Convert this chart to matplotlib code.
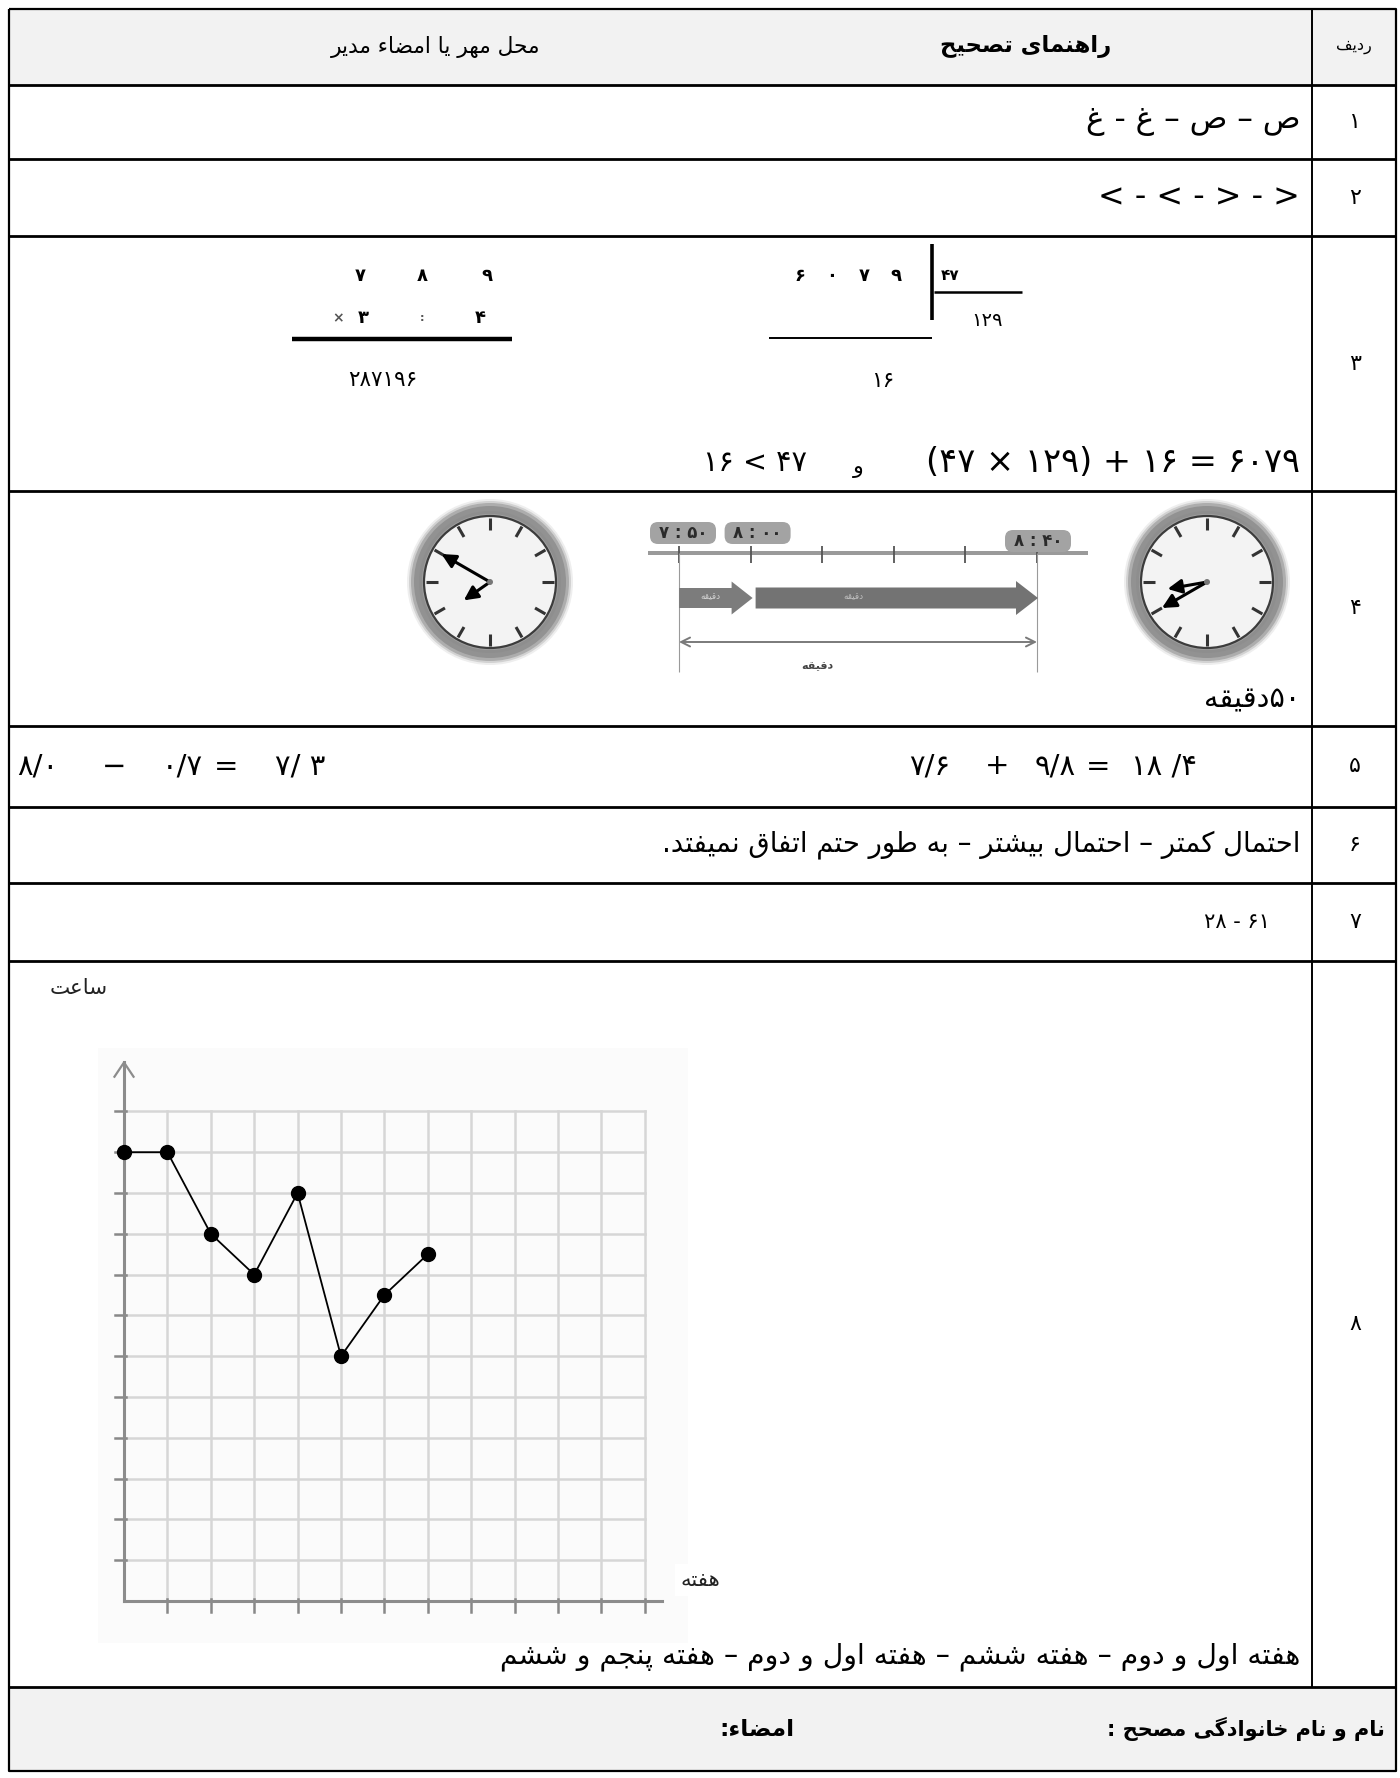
import re
import numpy as np
import matplotlib
matplotlib.use('Agg')
import matplotlib.pyplot as plt
from matplotlib.patches import Rectangle, Circle, FancyBboxPatch, FancyArrow, FancyArrowPatch

plt.rcParams['font.family'] = ['DejaVu Sans']

# ---------------- data ----------------
weeks = [0, 1, 2, 3, 4, 5, 6, 7]
hours = [11, 11, 9, 8, 10, 6, 7.5, 8.5]
grid_cells = 12

row_numbers = ['۱', '۲', '۳', '۴', '۵', '۶', '۷', '۸']
header_col = 'ردیف'
header_mid = 'راهنمای تصحیح'
header_left = 'محل مهر یا امضاء مدیر'
ans1 = 'ص – ص – غ - غ'
ans2 = '< - < - > - >'
mult_top = ['۷', '۸', '۹']
mult_bot = ['×', '۳', ':', '۴']
mult_res = '۲۸۷۱۹۶'
div_digits = ['۶', '۰', '۷', '۹']
div_divisor = '۴۷'
div_quot = '۱۲۹'
div_rem = '۱۶'
check_a = '۱۶ < ۴۷'
check_and = 'و'
check_b = '(۴۷ × ۱۲۹) + ۱۶ = ۶۰۷۹'
time_labels = ['۷:۵۰', '۸:۰۰', '۸:۴۰']
time_minutes = [50, 60, 100]          # minutes after 7:00
tick_minutes = [50, 60, 70, 80, 90, 100]
clock_times = [(7, 50), (8, 40)]
minute_word = 'دقیقه'
ans4 = '۵۰دقیقه'
ans5_left = ['۸/۰', '−', '۰/۷', '=', '۷/ ۳']
ans5_right = ['۷/۶', '+', '۹/۸', '=', '۱۸ /۴']
ans6 = 'احتمال کمتر – احتمال بیشتر – به طور حتم اتفاق نمیفتد.'
ans7 = '۲۸ - ۶۱'
ylabel = 'ساعت'
xlabel = 'هفته'
ans8 = 'هفته اول و دوم – هفته ششم – هفته اول و دوم – هفته پنجم و ششم'
footer_name = 'نام و نام خانوادگی مصحح :'
footer_sign = 'امضاء:'

# ---------------- Arabic shaping (presentation forms) ----------------
FORMS = {
    'ء': ('\uFE80', None, None, None),
    'آ': ('\uFE81', '\uFE82', None, None),
    'أ': ('\uFE83', '\uFE84', None, None),
    'ؤ': ('\uFE85', '\uFE86', None, None),
    'إ': ('\uFE87', '\uFE88', None, None),
    'ئ': ('\uFE89', '\uFE8A', '\uFE8B', '\uFE8C'),
    'ا': ('\uFE8D', '\uFE8E', None, None),
    'ب': ('\uFE8F', '\uFE90', '\uFE91', '\uFE92'),
    'ة': ('\uFE93', '\uFE94', None, None),
    'ت': ('\uFE95', '\uFE96', '\uFE97', '\uFE98'),
    'ث': ('\uFE99', '\uFE9A', '\uFE9B', '\uFE9C'),
    'ج': ('\uFE9D', '\uFE9E', '\uFE9F', '\uFEA0'),
    'ح': ('\uFEA1', '\uFEA2', '\uFEA3', '\uFEA4'),
    'خ': ('\uFEA5', '\uFEA6', '\uFEA7', '\uFEA8'),
    'د': ('\uFEA9', '\uFEAA', None, None),
    'ذ': ('\uFEAB', '\uFEAC', None, None),
    'ر': ('\uFEAD', '\uFEAE', None, None),
    'ز': ('\uFEAF', '\uFEB0', None, None),
    'س': ('\uFEB1', '\uFEB2', '\uFEB3', '\uFEB4'),
    'ش': ('\uFEB5', '\uFEB6', '\uFEB7', '\uFEB8'),
    'ص': ('\uFEB9', '\uFEBA', '\uFEBB', '\uFEBC'),
    'ض': ('\uFEBD', '\uFEBE', '\uFEBF', '\uFEC0'),
    'ط': ('\uFEC1', '\uFEC2', '\uFEC3', '\uFEC4'),
    'ظ': ('\uFEC5', '\uFEC6', '\uFEC7', '\uFEC8'),
    'ع': ('\uFEC9', '\uFECA', '\uFECB', '\uFECC'),
    'غ': ('\uFECD', '\uFECE', '\uFECF', '\uFED0'),
    'ف': ('\uFED1', '\uFED2', '\uFED3', '\uFED4'),
    'ق': ('\uFED5', '\uFED6', '\uFED7', '\uFED8'),
    'ك': ('\uFED9', '\uFEDA', '\uFEDB', '\uFEDC'),
    'ل': ('\uFEDD', '\uFEDE', '\uFEDF', '\uFEE0'),
    'م': ('\uFEE1', '\uFEE2', '\uFEE3', '\uFEE4'),
    'ن': ('\uFEE5', '\uFEE6', '\uFEE7', '\uFEE8'),
    'ه': ('\uFEE9', '\uFEEA', '\uFEEB', '\uFEEC'),
    'و': ('\uFEED', '\uFEEE', None, None),
    'ى': ('\uFEEF', '\uFEF0', None, None),
    'ي': ('\uFEF1', '\uFEF2', '\uFEF3', '\uFEF4'),
    'پ': ('\uFB56', '\uFB57', '\uFB58', '\uFB59'),
    'چ': ('\uFB7A', '\uFB7B', '\uFB7C', '\uFB7D'),
    'ژ': ('\uFB8A', '\uFB8B', None, None),
    'ک': ('\uFB8E', '\uFB8F', '\uFB90', '\uFB91'),
    'گ': ('\uFB92', '\uFB93', '\uFB94', '\uFB95'),
    'ی': ('\uFBFC', '\uFBFD', '\uFBFE', '\uFBFF'),
}
LAM_ALEF = {'ا': ('\uFEFB', '\uFEFC'), 'أ': ('\uFEF7', '\uFEF8'),
            'إ': ('\uFEF9', '\uFEFA'), 'آ': ('\uFEF5', '\uFEF6')}


def _dual(c):
    f = FORMS.get(c)
    return f is not None and f[2] is not None


def shape(s):
    out = []
    i, n = 0, len(s)
    while i < n:
        c = s[i]
        f = FORMS.get(c)
        if f is None:
            out.append(c)
            i += 1
            continue
        prev = s[i - 1] if i > 0 else ''
        pj = _dual(prev) and f[1] is not None
        if c == 'ل' and i + 1 < n and s[i + 1] in LAM_ALEF:
            iso, fin = LAM_ALEF[s[i + 1]]
            out.append(fin if pj else iso)
            i += 2
            continue
        nxt = s[i + 1] if i + 1 < n else ''
        nj = f[2] is not None and nxt in FORMS and FORMS[nxt][1] is not None
        if pj and nj:
            out.append(f[3])
        elif pj:
            out.append(f[1])
        elif nj:
            out.append(f[2])
        else:
            out.append(f[0])
        i += 1
    return ''.join(out)


def rtl(s):
    r = shape(s)[::-1]
    return re.sub('[0-9\u06F0-\u06F9]+', lambda m: m.group(0)[::-1], r)


# ---------------- canvas ----------------
W, H = 1400, 1778
fig = plt.figure(figsize=(W / 100, H / 100), dpi=100)
ax = fig.add_axes([0, 0, 1, 1])
ax.set_xlim(0, W)
ax.set_ylim(H, 0)
ax.axis('off')
REND = fig.canvas.get_renderer()


def line(xs, ys, lw=2.0, color='black', z=3):
    ax.plot(xs, ys, color=color, lw=lw, solid_capstyle='butt', zorder=z)


def fit(x, y, s, width, ha='right', va='center', maxsize=40, scale=1.0, target=ax, **kw):
    t = target.text(x, y, s, fontsize=20, ha=ha, va=va, **kw)
    w = t.get_window_extent(REND).width
    t.set_fontsize(min(maxsize, 20 * width / w) * scale)
    return t


# ---------------- table ----------------
L, R, T, B = 9, 1396, 9, 1771
COLX = 1312
row_y = [85, 159, 236, 491, 726, 807, 883, 961, 1687]
ax.add_patch(Rectangle((L, T), R - L, row_y[0] - T, fc='#f2f2f2', ec='none', zorder=1))
ax.add_patch(Rectangle((L, row_y[-1]), R - L, B - row_y[-1], fc='#f2f2f2', ec='none', zorder=1))
line([L, R, R, L, L], [T, T, B, B, T], lw=1.6)
for yy in row_y:
    line([L, R], [yy, yy], lw=2.0)
line([COLX, COLX], [T, row_y[-1]], lw=1.4)

# header
hc = (T + row_y[0]) / 2
fit(1354, hc, rtl(header_col), 36, ha='center')
fit(1026, hc, rtl(header_mid), 172, ha='center', weight='bold')
fit(436, hc, rtl(header_left), 212, ha='center')

# row numbers
for k, num in enumerate(row_numbers):
    cy = (row_y[k] + row_y[k + 1]) / 2
    ax.text(1355, cy, num, fontsize=16, ha='center', va='center')

# row 1, 2
fit(1300, (row_y[0] + row_y[1]) / 2, rtl(ans1), 215)
fit(1300, (row_y[1] + row_y[2]) / 2, ans2, 203)

# row 3 : multiplication
for xx, d in zip([360, 422, 487], mult_top):
    ax.text(xx, 276, d, fontsize=13, ha='center', va='center', weight='bold')
for xx, d, fs in zip([338, 363, 422, 480], mult_bot, [10, 13, 8, 13]):
    ax.text(xx, 318, d, fontsize=fs, ha='center', va='center', weight='bold',
            color='#555' if d in '×:' else 'black')
line([292, 512], [339, 339], lw=3.2)
ax.text(383, 380, mult_res, fontsize=15.5, ha='center', va='center')

# division
for xx, d in zip([800, 832, 864, 896], div_digits):
    ax.text(xx, 276, d, fontsize=13, ha='center', va='center', weight='bold')
line([932, 932], [244, 320], lw=2.6)
ax.text(941, 276, div_divisor, fontsize=11, ha='left', va='center', weight='bold')
line([934, 1022], [292, 292], lw=1.8)
ax.text(987, 321, div_quot, fontsize=14, ha='center', va='center')
line([769, 932], [338, 338], lw=1.4)
ax.text(883, 381, div_rem, fontsize=15.5, ha='center', va='center')

# check line
fit(703, 463, check_a, 104, ha='left')
ax.text(858, 468, rtl(check_and), fontsize=16, ha='center', va='center')
fit(1300, 463, check_b, 374, ha='right')

# ---------------- row 4 : clocks & timeline ----------------
def clock(cx, cy, hh, mm, lm, lh):
    for r, c in [(83, '#eeeeee'), (81, '#d2d2d2'), (79, '#adadad'), (76, '#929292'), (71, '#8e8e8e'),
                 (68, '#a0a0a0')]:
        ax.add_patch(Circle((cx, cy), r, fc=c, ec='none', zorder=2))
    ax.add_patch(Circle((cx, cy), 66, fc='#f3f3f3', ec='#3c3c3c', lw=1.6, zorder=2))
    for k in range(12):
        a = np.deg2rad(90 - 30 * k)
        line([cx + 52 * np.cos(a), cx + 64 * np.cos(a)],
             [cy - 52 * np.sin(a), cy - 64 * np.sin(a)], lw=2.2, color='#333', z=3)
    am = np.deg2rad(90 - 6 * mm)
    ah = np.deg2rad(90 - 30 * (hh + mm / 60))
    for ang, ln in [(am, lm), (ah, lh)]:
        ax.add_patch(FancyArrowPatch((cx, cy), (cx + ln * np.cos(ang), cy - ln * np.sin(ang)),
                                     arrowstyle='-|>', mutation_scale=21, lw=2.2,
                                     color='black', shrinkA=0, shrinkB=0, zorder=4))
    ax.add_patch(Circle((cx, cy), 3, fc='#777', ec='none', zorder=4))


clock(490, 582, clock_times[0][0], clock_times[0][1], 56, 32)
clock(1207, 582, clock_times[1][0], clock_times[1][1], 52, 40)


def tx(m):
    return 679 + (m - 50) * 7.16


# timeline bar
ax.add_patch(Rectangle((648, 551), 440, 4, fc='#9a9a9a', ec='none', zorder=2))
for m in tick_minutes:
    line([tx(m), tx(m)], [546, 563], lw=1.3, color='#555')
line([tx(50), tx(50)], [553, 672], lw=0.8, color='#9a9a9a')
line([tx(100), tx(100)], [553, 672], lw=0.8, color='#9a9a9a')
for m, lab, yy in zip(time_minutes, time_labels, [533, 533, 541]):
    cxl = tx(m) + (4 if m == 50 else 7 if m == 60 else 1)
    ax.add_patch(FancyBboxPatch((cxl - 33, yy - 11), 66, 22,
                                boxstyle='round,pad=0,rounding_size=8',
                                fc='#a3a3a3', ec='none', zorder=3))
    hh, mm = lab.split(':')
    ax.text(cxl, yy, hh + ' : ' + mm, fontsize=12, ha='center', va='center',
            color='#2a2a2a', weight='bold', zorder=4)
ax.add_patch(FancyArrow(tx(50), 598, tx(60) - tx(50) + 2, 0, width=20, head_width=33,
                        head_length=21, length_includes_head=True, fc='#7c7c7c', ec='none', zorder=3))
ax.add_patch(FancyArrow(tx(60) + 5, 598, tx(100) - tx(60) - 4, 0, width=21, head_width=34,
                        head_length=22, length_includes_head=True, fc='#737373', ec='none', zorder=3))
ax.text((tx(50) + tx(60)) / 2 - 4, 597, rtl(minute_word), fontsize=6.5, ha='center', va='center',
        color='#d0d0d0', zorder=4)
ax.text(853, 597, rtl(minute_word), fontsize=6.5, ha='center', va='center', color='#bdbdbd', zorder=4)
ax.add_patch(FancyArrowPatch((tx(50), 642), (tx(100), 642), arrowstyle='<->', mutation_scale=16,
                             lw=1.4, color='#7a7a7a', shrinkA=0, shrinkB=0, zorder=3))
ax.text(817, 666, rtl(minute_word), fontsize=8, ha='center', va='center', color='#444',
        weight='bold', zorder=4)

fit(1300, 699, rtl(ans4), 96)

# ---------------- rows 5-7 ----------------
r5 = (row_y[4] + row_y[5]) / 2
for xx, tok in zip([38, 114, 182, 226, 300], ans5_left):
    ax.text(xx, r5, tok, fontsize=21, ha='center', va='center')
for xx, tok in zip([930, 997, 1055, 1098, 1164], ans5_right):
    ax.text(xx, r5, tok, fontsize=21, ha='center', va='center')
fit(1300, (row_y[5] + row_y[6]) / 2, rtl(ans6), 639)
fit(1270, (row_y[6] + row_y[7]) / 2, ans7, 66)

# ---------------- row 8 : graph ----------------
fit(79, 988, rtl(ylabel), 58, ha='center', color='#222')
ax.add_patch(Rectangle((98, 1048), 590, 595, fc='#fbfbfb', ec='none', zorder=1))

gx0, gcx, gy0, gcy = 124, 43.4, 1601, 40.8
pl, pr, pt, pb = 95, 700, 1040, 1650
ax2 = fig.add_axes([pl / W, 1 - pb / H, (pr - pl) / W, (pb - pt) / H])
ax2.set_xlim((pl - gx0) / gcx, (pr - gx0) / gcx)
ax2.set_ylim((gy0 - pb) / gcy, (gy0 - pt) / gcy)
ax2.axis('off')
for i in range(1, grid_cells + 1):
    ax2.plot([i, i], [0, grid_cells], color='#d6d6d6', lw=1.8, zorder=1)
    ax2.plot([0, grid_cells], [i, i], color='#d6d6d6', lw=1.8, zorder=1)
    ax2.plot([-0.2, 0.05], [i, i], color='#888', lw=1.8, zorder=2)
    ax2.plot([i, i], [-0.28, 0.05], color='#888', lw=1.8, zorder=2)
ax2.plot([0, 0], [0, 13.2], color='#8c8c8c', lw=2.2, zorder=2)
ax2.plot([-0.22, 0, 0.22], [12.85, 13.2, 12.85], color='#8c8c8c', lw=1.6, zorder=2)
ax2.plot([0, 12.4], [0, 0], color='#8c8c8c', lw=2.2, zorder=2)
ax2.plot(weeks, hours, '-o', color='black', lw=1.3, ms=10, zorder=5, clip_on=False)
t = fit(700, 1580, rtl(xlabel), 40, ha='center', target=ax2, transform=ax.transData,
        color='#222', zorder=10)
t.set_bbox(dict(fc='white', ec='none', pad=4))

fit(1300, 1657, rtl(ans8), 798)

# ---------------- footer ----------------
fc_y = (row_y[-1] + B) / 2
fit(1385, fc_y, rtl(footer_name), 252, weight='bold', scale=1.1)
fit(794, fc_y, rtl(footer_sign), 68, weight='bold', scale=1.1)

fig.savefig('out.png', dpi=100)
